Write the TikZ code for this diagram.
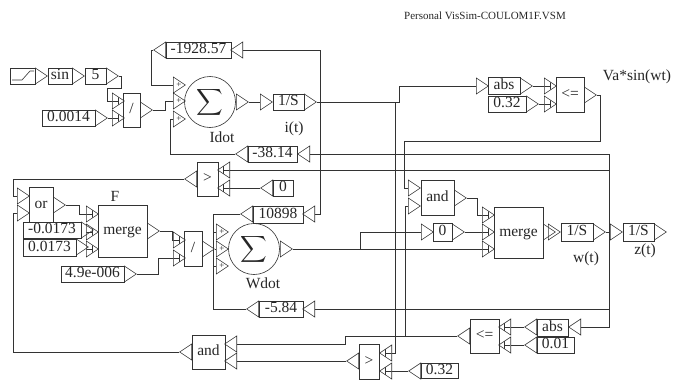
\documentclass[tikz,border=0pt]{standalone}
\usepackage{fontspec}
\setmainfont{Liberation Serif}
\usetikzlibrary{shapes.geometric}
\tikzset{
	wire/.style={black!80, line width=0.6pt},
	block/.style={draw=black!80, line width=0.6pt, inner sep=0pt, text=black!85, font=\fontsize{15.5}{16}\selectfont, text height=10pt, text depth=3pt},
	pinr/.style={isosceles triangle, isosceles triangle stretches, draw=black!80, line width=0.6pt, inner sep=0pt, minimum height=12pt, minimum width=16pt, anchor=lower side},
	pinl/.style={pinr, shape border rotate=180},
	tickr/.style={pinr, path picture={\draw[wire] (path picture bounding box.west) -- (path picture bounding box.center) ++(0,-4) -- ++(0,8);}},
	tickl/.style={pinl, path picture={\draw[wire] (path picture bounding box.east) -- (path picture bounding box.center) ++(0,-4) -- ++(0,8);}},
	sumblock/.style={circle, draw=black!80, line width=0.6pt, inner sep=0pt, minimum size=51pt, text=black!85},
	lbl/.style={inner sep=0pt, text=black!85, font=\fontsize{15.5}{16}\selectfont},
	plus/.style={inner sep=0pt, text=black!85, font=\fontsize{9}{9}\selectfont}
}
\begin{document}
\begin{tikzpicture}[x=1pt, y=-1pt]
\useasboundingbox (0,0) rectangle (680,380);
% Labels
\node[lbl, font=\fontsize{11}{12}\selectfont] (title) at (485,16) {Personal VisSim-COULOM1F.VSM};
\node[lbl] (vasin) at (637,77) {Va*sin(wt)};
\node[lbl] (idot) at (222,137) {Idot};
\node[lbl] (it) at (294,129) {i(t)};
\node[lbl] (flabel) at (115,196) {F};
\node[lbl] (wdot) at (263,283) {Wdot};
\node[lbl] (wt) at (586,259) {w(t)};
\node[lbl] (zt) at (645,251) {z(t)};

% Sine source
\node[block, minimum width=25pt, minimum height=16pt] (ramp) at (22.5,76) {};
\draw[wire] (12,80) -- (22,80) -- (30,71) -- (34,71);
\node[pinr] (rampout) at (35,76) {};
\node[block, minimum width=24pt, minimum height=16pt] (sin) at (60,76) {sin};
\node[pinr] (sinout) at (72,76) {};
\node[block, minimum width=21pt, minimum height=16pt] (five) at (95.5,76) {5};
\node[pinr] (fiveout) at (106,76) {};
\draw[wire] (rampout.apex) -- (sin.west);
% Divide I
\node[block, minimum width=17pt, minimum height=34pt] (divi) at (131.5,110) {/};
\node[tickr] (divia) at (112,101) {};
\node[tickr] (divib) at (112,118) {};
\node[pinr] (diviout) at (140,110) {};
\node[block, minimum width=53pt, minimum height=16pt] (cona) at (68.5,118) {0.0014};
\node[pinr] (conaout) at (95,118) {};
\draw[wire] (fiveout.apex) -- (121,76) -- (121,88) -- (107,88) -- (107,101) -- (divia.lower side);
\draw[wire] (conaout.apex) -- (divib.lower side);
% Summer I
\node[sumblock] (sumi) at (210,102) {\scalebox{1.85}{$\displaystyle\sum$}};
\node[pinr] (sumia) at (173,85) {};
\node[pinr] (sumib) at (173,101) {};
\node[pinr] (sumic) at (173,119) {};
\node[plus] (plusia) at (179,85) {+};
\node[plus] (plusib) at (179,101) {+};
\node[plus] (plusic) at (179,119) {+};
\node[pinr] (sumiout) at (236,102) {};
\draw[wire] (diviout.apex) -- (165,110) -- (165,101) -- (sumib.lower side);
% Integrator I
\node[pinr] (intin) at (260,102) {};
\node[block, minimum width=31pt, minimum height=16pt] (inti) at (288.5,102) {1/S};
\node[pinr] (intiout) at (304,102) {};
\draw[wire] (sumiout.apex) -- (intin.lower side);
% Gains on the current
\node[block, minimum width=65pt, minimum height=16pt] (gaina) at (198.5,50) {-1928.57};
\node[pinl] (gainaout) at (166,50) {};
\node[pinl] (gainain) at (243,50) {};
\node[block, minimum width=49pt, minimum height=16pt] (gainb) at (272.5,154) {-38.14};
\node[pinl] (gainbout) at (248,154) {};
\node[pinl] (gainbin) at (310,154) {};
\draw[wire] (gainaout.apex) -- (151,50) -- (151,85) -- (sumia.lower side);
\draw[wire] (gainbout.apex) -- (170,154) -- (170,119) -- (sumic.lower side);
% Upper compare
\node[block, minimum width=21pt, minimum height=34pt] (gta) at (207.5,179) {>};
\node[pinl] (gtaout) at (197,179) {};
\node[tickl] (gtaia) at (230,170) {};
\node[tickl] (gtaib) at (230,188) {};
\node[block, minimum width=20pt, minimum height=16pt] (zeroa) at (283,188) {0};
\node[pinl] (zeroaout) at (273,188) {};
\draw[wire] (zeroaout.apex) -- (gtaib.lower side);
% Or and merge F
\node[block, minimum width=24pt, minimum height=35pt] (or) at (41,205) {or};
\node[pinr] (oria) at (17,196) {};
\node[pinr] (orib) at (17,213) {};
\node[pinr] (orout) at (53,205) {};
\node[block, minimum width=49pt, minimum height=52pt] (mergef) at (122.5,231) {merge};
\node[tickr] (mfa) at (86,214) {};
\node[tickr] (mfb) at (86,232) {};
\node[tickr] (mfc) at (86,249) {};
\node[pinr] (mfout) at (147,231) {};
\node[block, minimum width=58pt, minimum height=16pt] (conb) at (52,230) {-0.0173};
\node[pinr] (conbout) at (81,230) {};
\node[block, minimum width=53pt, minimum height=17pt] (conc) at (49.5,247.5) {0.0173};
\node[pinr] (concout) at (76,247) {};
\draw[wire] (orout.apex) -- (79,205) -- (79,214) -- (mfa.lower side);
\draw[wire] (gtaout.apex) -- (13,179) -- (13,196) -- (oria.lower side);
% Divide W
\node[block, minimum width=18pt, minimum height=35pt] (divw) at (193,248.5) {/};
\node[tickr] (dwa) at (173,240) {};
\node[tickr] (dwb) at (173,258) {};
\node[pinr] (dwout) at (202,249) {};
\node[block, minimum width=63pt, minimum height=16pt] (cond) at (92.5,274) {4.9e-006};
\node[pinr] (condout) at (124,274) {};
\draw[wire] (mfout.apex) -- (172,231) -- (172,240) -- (dwa.lower side);
\draw[wire] (condout.apex) -- (158,274) -- (158,258) -- (dwb.lower side);
% Summer W
\node[sumblock] (sumw) at (254,249) {\scalebox{1.85}{$\displaystyle\sum$}};
\node[pinr] (swa) at (216,232) {};
\node[pinr] (swb) at (216,249) {};
\node[pinr] (swc) at (216,266) {};
\node[plus] (plusa) at (222,232) {+};
\node[plus] (plusb) at (222,249) {+};
\node[plus] (plusc) at (222,266) {+};
\node[pinr] (swout) at (280,249) {};
\draw[wire] (dwout.apex) -- (swb.lower side);
% Gains on the speed
\node[block, minimum width=50pt, minimum height=17pt] (gainc) at (278,214.5) {10898};
\node[pinl] (gaincout) at (253,214) {};
\node[pinl] (gaincin) at (315,214) {};
\node[block, minimum width=44pt, minimum height=16pt] (gaind) at (281,309) {-5.84};
\node[pinl] (gaindout) at (259,309) {};
\node[pinl] (gaindin) at (315,309) {};
\draw[wire] (gaincout.apex) -- (213,214) -- (213,232) -- (swa.lower side);
\draw[wire] (gaindout.apex) -- (213,309) -- (213,266) -- (swc.lower side);
\draw[wire] (213,232) -- (213,266);
% Va compare
\node[pinr] (absin) at (476,86) {};
\node[block, minimum width=32pt, minimum height=17pt] (absa) at (504,85.5) {abs};
\node[pinr] (absout) at (520,86) {};
\node[block, minimum width=38pt, minimum height=16pt] (cone) at (507,104) {0.32};
\node[pinr] (coneout) at (526,104) {};
\node[block, minimum width=28pt, minimum height=35pt] (lea) at (570,94.5) {<=};
\node[tickr] (leia) at (544,86) {};
\node[tickr] (leib) at (544,104) {};
\node[pinr] (leout) at (584,95) {};
\draw[wire] (absout.apex) -- (leia.lower side);
\draw[wire] (coneout.apex) -- (leib.lower side);
% Upper and
\node[block, minimum width=33pt, minimum height=35pt] (anda) at (437.5,197.5) {and};
\node[pinr] (anduia) at (408,188) {};
\node[pinr] (anduib) at (408,206) {};
\node[pinr] (anduout) at (454,198) {};
\draw[wire] (leout.apex) -- (600,95) -- (600,141) -- (404,141) -- (404,188) -- (anduia.lower side);
% Merge W
\node[block, minimum width=49pt, minimum height=51pt] (mergew) at (518.5,232.5) {merge};
\node[tickr] (mwa) at (482,215) {};
\node[tickr] (mwb) at (482,232) {};
\node[tickr] (mwc) at (482,249) {};
\node[pinr] (mwout) at (543,232) {};
\node[pinr] (zbin) at (421,232) {};
\node[block, minimum width=19pt, minimum height=18pt] (zerob) at (442.5,232) {0};
\node[pinr] (zbout) at (452,232) {};
\draw[wire] (anduout.apex) -- (477,198) -- (477,215) -- (mwa.lower side);
\draw[wire] (zbout.apex) -- (mwb.lower side);
\draw[wire] (swout.apex) -- (mwc.lower side);
\draw[wire] (360,249) -- (360,232) -- (zbin.lower side);
% Integrators W and z
\node[pinr] (iwin) at (548,232) {};
\node[block, minimum width=32pt, minimum height=18pt] (intw) at (577,232) {1/S};
\node[pinr] (iwout) at (593,232) {};
\node[pinr] (izin) at (610,232) {};
\node[block, minimum width=31pt, minimum height=18pt] (intz) at (638.5,232) {1/S};
\node[pinr] (izout) at (654,232) {};
\draw[wire] (iwout.apex) -- (izin.lower side);
% Lower compare on the speed
\node[block, minimum width=29pt, minimum height=34pt] (leb) at (484.5,336) {<=};
\node[pinl] (lebout) at (470,336) {};
\node[tickl] (lebia) at (511,327) {};
\node[tickl] (lebib) at (511,345) {};
\node[block, minimum width=31pt, minimum height=17pt] (absb) at (552.5,327.5) {abs};
\node[pinl] (absbout) at (537,327) {};
\node[pinl] (absbin) at (581,327) {};
\node[block, minimum width=37pt, minimum height=16pt] (cong) at (555.5,345) {0.01};
\node[pinl] (congout) at (537,345) {};
\draw[wire] (absbout.apex) -- (lebia.lower side);
\draw[wire] (congout.apex) -- (lebib.lower side);
% Lower compare on the current
\node[block, minimum width=20pt, minimum height=35pt] (gtb) at (369,361.5) {>};
\node[pinl] (gtbout) at (359,361) {};
\node[tickl] (gtbia) at (392,353) {};
\node[tickl] (gtbib) at (392,371) {};
\node[block, minimum width=37pt, minimum height=15pt] (conh) at (439.5,370.5) {0.32};
\node[pinl] (conhout) at (421,371) {};
\draw[wire] (conhout.apex) -- (gtbib.lower side);
% Lower and
\node[block, minimum width=33pt, minimum height=34pt] (andb) at (208.5,352) {and};
\node[pinl] (andlout) at (192,352) {};
\node[pinl] (andlia) at (237,344) {};
\node[pinl] (andlib) at (237,361) {};
\draw[wire] (gtbout.apex) -- (andlib.lower side);
\draw[wire] (lebout.apex) -- (345,336) -- (345,344) -- (andlia.lower side);
\draw[wire] (andlout.apex) -- (13,352) -- (13,213) -- (orib.lower side);
% Feedback lines
\draw[wire] (gainain.lower side) -- (320,50) -- (320,214) -- (gaincin.lower side);
\draw[wire] (intiout.apex) -- (399,102) -- (399,86) -- (absin.lower side);
\draw[wire] (395,102) -- (395,353) -- (gtbia.lower side);
\draw[wire] (anduib.lower side) -- (405,206) -- (405,336);
\draw[wire] (gainbin.lower side) -- (609,154) -- (609,327) -- (absbin.lower side);
\draw[wire] (gtaia.lower side) -- (609,170);
\draw[wire] (gaindin.lower side) -- (609,309);
\end{tikzpicture}
\end{document}
